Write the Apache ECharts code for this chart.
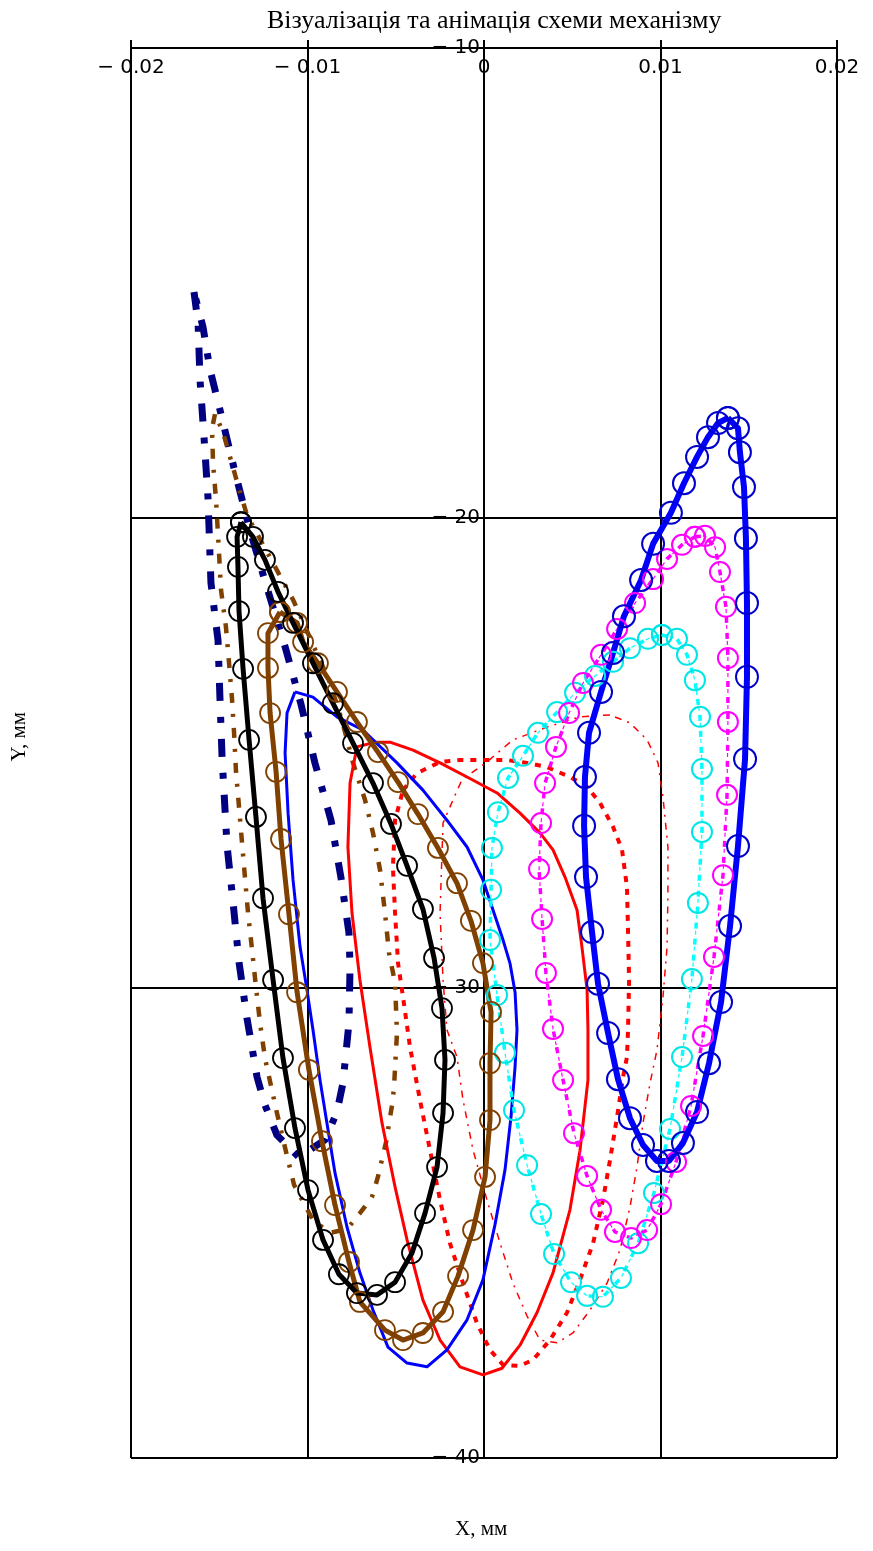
<!DOCTYPE html>
<html>
<head>
<meta charset="utf-8">
<script src="https://cdn.jsdelivr.net/npm/echarts@6/dist/echarts.min.js"></script>
<style>
html,body{margin:0;padding:0;background:#fff;}
#chart{width:873px;height:1551px;}
</style>
</head>
<body>
<div id="chart"></div>
<script>
// ---- tick labels ----
const xTickValues = [-0.02, -0.01, 0, 0.01, 0.02];
const xTickLabels = ['\u2212 0.02', '\u2212 0.01', '0', '0.01', '0.02'];
const yTickValues = [-40, -30, -20, -10];
const yTickLabels = ['\u2212 40', '\u2212 30', '\u2212 20', '\u2212 10'];

// ---- curve 1: navy dash-dot ----
const navyX = [-0.01643,-0.01620,-0.01609,-0.01586,-0.01564,-0.01547,-0.01507,-0.01496,-0.01484,-0.01456,-0.01422,-0.01388,-0.01343,-0.01286,-0.01241,-0.01173,-0.01048,-0.00901,-0.00833,-0.00799,-0.00765,-0.00759,-0.00765,-0.00810,-0.00867,-0.00958,-0.01037,-0.01127,-0.01229,-0.01326,-0.01411,-0.01490,-0.01552,-0.01592,-0.01643];
const navyY = [-15.19,-15.85,-17.06,-18.30,-19.55,-21.38,-22.60,-23.83,-25.09,-26.96,-28.17,-29.45,-30.64,-31.89,-32.49,-33.13,-33.60,-33.23,-32.64,-32.02,-30.74,-29.55,-28.83,-27.66,-26.43,-25.21,-23.96,-22.74,-21.49,-20.26,-19.02,-17.79,-16.85,-15.94,-15.19];

// ---- curve 2: brown dash-dot ----
const brownDX = [-0.01524,-0.01541,-0.01535,-0.01518,-0.01501,-0.01490,-0.01462,-0.01445,-0.01428,-0.01416,-0.01405,-0.01388,-0.01371,-0.01354,-0.01337,-0.01314,-0.01292,-0.01269,-0.01241,-0.01173,-0.01127,-0.01076,-0.00969,-0.00873,-0.00776,-0.00703,-0.00635,-0.00601,-0.00555,-0.00521,-0.00510,-0.00499,-0.00493,-0.00504,-0.00538,-0.00561,-0.00589,-0.00629,-0.00674,-0.00742,-0.00805,-0.00878,-0.00969,-0.01037,-0.01082,-0.01343,-0.01405,-0.01479,-0.01524];
const brownDY = [-17.79,-18.09,-18.85,-19.62,-20.77,-21.53,-22.32,-23.06,-23.83,-24.57,-25.40,-26.15,-26.91,-27.66,-28.40,-29.19,-29.98,-30.74,-31.49,-32.66,-33.40,-34.19,-34.94,-35.21,-35.13,-34.79,-34.45,-34.02,-33.28,-32.49,-32.13,-31.36,-30.96,-29.89,-29.26,-28.40,-27.49,-26.70,-26.00,-25.21,-24.30,-23.45,-22.70,-22.11,-21.74,-19.94,-19.15,-18.17,-17.79];

// ---- curve 3: black with circles ----
const blackX = [-0.01377,-0.01399,-0.01394,-0.01388,-0.01365,-0.01331,-0.01292,-0.01252,-0.01195,-0.01139,-0.01071,-0.00997,-0.00912,-0.00822,-0.00720,-0.00606,-0.00504,-0.00408,-0.00334,-0.00266,-0.00232,-0.00221,-0.00238,-0.00283,-0.00346,-0.00436,-0.00527,-0.00629,-0.00742,-0.00856,-0.00969,-0.01082,-0.01167,-0.01241,-0.01309,-0.01377];
const blackY = [-20.09,-20.40,-21.04,-21.98,-23.21,-24.72,-26.36,-28.09,-29.83,-31.49,-32.98,-34.30,-35.36,-36.09,-36.49,-36.53,-36.26,-35.64,-34.79,-33.81,-32.66,-31.53,-30.43,-29.36,-28.32,-27.40,-26.51,-25.64,-24.79,-23.94,-23.09,-22.23,-21.57,-20.89,-20.40,-20.09];

// ---- curve 4: brown with circles ----
const brownX = [-0.01156,-0.01059,-0.01025,-0.00941,-0.00833,-0.00720,-0.00601,-0.00487,-0.00374,-0.00261,-0.00153,-0.00074,-0.00006,0.00040,0.00034,0.00034,0.00006,-0.00062,-0.00147,-0.00232,-0.00346,-0.00459,-0.00561,-0.00703,-0.00765,-0.00844,-0.00918,-0.00992,-0.01059,-0.01105,-0.01150,-0.01178,-0.01212,-0.01224,-0.01224,-0.01156];
const brownY = [-22.00,-22.23,-22.64,-23.09,-23.70,-24.34,-24.98,-25.62,-26.30,-27.02,-27.77,-28.57,-29.47,-30.51,-31.60,-32.81,-34.02,-35.15,-36.13,-36.89,-37.34,-37.49,-37.28,-36.68,-35.83,-34.62,-33.26,-31.74,-30.09,-28.43,-26.83,-25.40,-24.15,-23.19,-22.45,-22.00];

// ---- curve 5: thin blue ----
const blueTX = [-0.01071,-0.01116,-0.01127,-0.01110,-0.01082,-0.01042,-0.01003,-0.00969,-0.00929,-0.00890,-0.00844,-0.00776,-0.00703,-0.00629,-0.00544,-0.00436,-0.00323,-0.00210,-0.00096,-0.00006,0.00062,0.00119,0.00153,0.00176,0.00187,0.00176,0.00147,0.00108,0.00051,-0.00006,-0.00096,-0.00210,-0.00346,-0.00493,-0.00686,-0.00833,-0.00969,-0.01071];
const blueTY = [-23.70,-24.15,-25.00,-26.28,-27.70,-29.13,-30.04,-30.89,-31.96,-32.87,-33.94,-35.09,-36.06,-36.85,-37.64,-37.98,-38.06,-37.70,-37.06,-36.21,-35.04,-33.87,-32.74,-31.68,-30.89,-30.09,-29.47,-28.98,-28.34,-27.70,-27.00,-26.43,-25.79,-25.21,-24.51,-24.23,-23.81,-23.70];

// ---- curve 6: red solid ----
const redSX = [-0.00618,-0.00533,-0.00402,-0.00249,-0.00096,0.00074,0.00204,0.00317,0.00391,0.00459,0.00527,0.00555,0.00584,0.00589,0.00589,0.00544,0.00487,0.00391,0.00300,0.00204,0.00102,-0.00006,-0.00136,-0.00249,-0.00346,-0.00436,-0.00504,-0.00578,-0.00646,-0.00703,-0.00748,-0.00771,-0.00759,-0.00720,-0.00618];
const redSY = [-24.77,-24.77,-24.94,-25.21,-25.51,-25.85,-26.28,-26.70,-27.06,-27.64,-28.34,-29.13,-30.04,-30.89,-31.96,-33.45,-34.72,-36.06,-36.91,-37.60,-38.09,-38.23,-38.06,-37.49,-36.64,-35.36,-34.23,-32.87,-31.26,-29.83,-28.40,-27.00,-25.64,-24.87,-24.77];

// ---- curve 7: red thick dotted ----
const redDX = [-0.00459,-0.00380,-0.00249,-0.00136,-0.00023,0.00130,0.00244,0.00357,0.00487,0.00584,0.00657,0.00731,0.00782,0.00810,0.00816,0.00822,0.00816,0.00810,0.00788,0.00754,0.00714,0.00674,0.00618,0.00544,0.00470,0.00374,0.00278,0.00204,0.00108,0.00034,-0.00040,-0.00119,-0.00193,-0.00249,-0.00306,-0.00363,-0.00419,-0.00459,-0.00487,-0.00504,-0.00516,-0.00504,-0.00459];
const redDY = [-25.79,-25.43,-25.19,-25.15,-25.15,-25.15,-25.21,-25.30,-25.51,-25.72,-26.06,-26.57,-27.06,-27.85,-28.77,-29.83,-30.89,-31.47,-31.89,-32.74,-33.66,-34.51,-35.43,-36.21,-36.91,-37.49,-37.91,-38.04,-38.02,-37.70,-37.13,-36.28,-35.43,-34.51,-33.45,-32.38,-31.26,-30.19,-29.47,-28.40,-27.43,-26.43,-25.79];

// ---- curve 8: red thin dash-dot ----
const redTX = [0.00714,0.00544,0.00357,0.00164,0.00017,-0.00125,-0.00176,-0.00232,-0.00238,-0.00249,-0.00232,-0.00210,-0.00153,-0.00119,-0.00062,0.00017,0.00091,0.00164,0.00244,0.00317,0.00414,0.00504,0.00601,0.00697,0.00771,0.00827,0.00867,0.00901,0.00941,0.00980,0.01014,0.01037,0.01042,0.01042,0.01014,0.00986,0.00924,0.00827,0.00714];
const redTY = [-24.19,-24.23,-24.45,-24.72,-25.19,-25.57,-26.00,-26.49,-27.13,-28.40,-29.83,-30.89,-31.47,-32.38,-33.45,-34.51,-35.43,-36.28,-36.98,-37.49,-37.55,-37.34,-36.85,-36.28,-35.57,-34.66,-33.81,-32.87,-32.02,-31.32,-30.19,-29.13,-28.06,-27.00,-25.94,-25.21,-24.72,-24.36,-24.19];

// ---- curve 9: cyan with circles ----
const cyanX = [0.01008,0.01093,0.01150,0.01195,0.01224,0.01235,0.01235,0.01212,0.01178,0.01122,0.01054,0.00963,0.00873,0.00776,0.00674,0.00584,0.00493,0.00397,0.00323,0.00244,0.00170,0.00119,0.00074,0.00034,0.00040,0.00045,0.00079,0.00136,0.00221,0.00306,0.00414,0.00516,0.00629,0.00731,0.00827,0.00929,0.01008];
const cyanY = [-22.49,-22.57,-22.91,-23.45,-24.23,-25.34,-26.68,-28.19,-29.81,-31.47,-33.00,-34.36,-35.43,-36.17,-36.57,-36.55,-36.26,-35.66,-34.81,-33.77,-32.60,-31.38,-30.15,-28.98,-27.91,-27.02,-26.26,-25.53,-25.06,-24.57,-24.13,-23.72,-23.36,-23.06,-22.77,-22.57,-22.49];

// ---- curve 10: magenta with circles ----
const magX = [0.01195,0.01252,0.01309,0.01337,0.01371,0.01382,0.01382,0.01377,0.01354,0.01303,0.01241,0.01173,0.01088,0.01003,0.00924,0.00833,0.00742,0.00663,0.00584,0.00510,0.00448,0.00391,0.00351,0.00329,0.00312,0.00323,0.00346,0.00408,0.00482,0.00561,0.00663,0.00754,0.00856,0.00958,0.01037,0.01122,0.01195];
const magY = [-20.40,-20.38,-20.62,-21.15,-21.89,-22.98,-24.34,-25.89,-27.60,-29.34,-31.02,-32.51,-33.70,-34.60,-35.15,-35.32,-35.19,-34.72,-34.00,-33.09,-31.96,-30.87,-29.68,-28.53,-27.47,-26.49,-25.64,-24.87,-24.15,-23.51,-22.91,-22.36,-21.81,-21.30,-20.87,-20.57,-20.40];

// ---- curve 11: thick blue with circles ----
const blueX = [0.01382,0.01439,0.01450,0.01473,0.01484,0.01490,0.01490,0.01479,0.01439,0.01394,0.01343,0.01275,0.01207,0.01127,0.01048,0.00980,0.00901,0.00827,0.00759,0.00703,0.00646,0.00612,0.00578,0.00567,0.00572,0.00595,0.00663,0.00731,0.00793,0.00890,0.00958,0.01059,0.01133,0.01207,0.01269,0.01326,0.01382];
const blueY = [-17.87,-18.09,-18.60,-19.34,-20.43,-21.81,-23.38,-25.13,-26.98,-28.68,-30.30,-31.60,-32.64,-33.30,-33.68,-33.68,-33.34,-32.77,-31.94,-30.96,-29.91,-28.81,-27.64,-26.55,-25.51,-24.57,-23.70,-22.87,-22.09,-21.32,-20.55,-19.89,-19.26,-18.70,-18.28,-17.98,-17.87];

function zip(xs, ys) { return xs.map((x, i) => [x, ys[i]]); }

function curve(name, xs, ys, color, width, type, sym, dashOffset) {
  return {
    name: name, type: 'line', data: zip(xs, ys),
    showSymbol: !!sym, symbol: sym ? 'circle' : 'none',
    symbolSize: sym ? sym.size : 0,
    lineStyle: { color: color, width: width, type: type, dashOffset: dashOffset || 0, cap: 'butt', join: 'round' },
    itemStyle: sym ? { color: 'rgba(0,0,0,0)', borderColor: sym.color, borderWidth: sym.bw } : { color: color },
    smooth: false, animation: false, silent: true, z: 2
  };
}

const series = [
  curve('navy', navyX, navyY, '#000080', 7, [18, 16, 6, 16], null),
  curve('brownDash', brownDX, brownDY, '#804000', 4.5, [10, 11, 3, 11], null),
  curve('redThin', redTX, redTY, '#FF0000', 1.5, [7, 6, 2, 6], null),
  curve('redDot', redDX, redDY, '#FF0000', 4, [6, 7], null),
  curve('redSolid', redSX, redSY, '#FF0000', 3, 'solid', null),
  curve('blueThin', blueTX, blueTY, '#0000FF', 3, 'solid', null),
  curve('cyanThin', cyanX, cyanY, '#00FFFF', 1.2, [4, 12], null, 8),
  curve('cyan', cyanX, cyanY, '#00FFFF', 3.5, [6, 10], { size: 20, color: '#00E5E5', bw: 2 }),
  curve('magentaThin', magX, magY, '#FF00FF', 1.2, [4, 12], null, 8),
  curve('magenta', magX, magY, '#FF00FF', 3.5, [6, 10], { size: 20, color: '#FF00FF', bw: 2 }),
  curve('blue', blueX, blueY, '#0000FF', 6, 'solid', { size: 22, color: '#0000CC', bw: 2 }),
  curve('brown', brownX, brownY, '#804000', 5, 'solid', { size: 20, color: '#804000', bw: 1.8 }),
  curve('black', blackX, blackY, '#000000', 5, 'solid', { size: 20, color: '#000000', bw: 1.8 })
];

const chart = echarts.init(document.getElementById('chart'), null, { renderer: 'canvas' });
chart.setOption({
  backgroundColor: '#ffffff',
  animation: false,
  title: {
    text: 'Візуалізація та анімація схеми механізму',
    left: 262, top: 3,
    textStyle: { fontFamily: 'Liberation Serif', fontSize: 26, fontWeight: 'normal', color: '#000' }
  },
  grid: { left: 131, top: 48, width: 706, height: 1410, containLabel: false },
  xAxis: {
    type: 'value', position: 'top', min: -0.02, max: 0.02, interval: 0.01,
    axisLine: { show: true, onZero: false, lineStyle: { color: '#000', width: 2 } },
    axisTick: { show: true, inside: false, length: 8, lineStyle: { color: '#000', width: 2 } },
    axisLabel: {
      inside: true, margin: 10, fontSize: 20, color: '#000', fontFamily: 'DejaVu Sans',
      formatter: function (v) { const i = xTickValues.findIndex(t => Math.abs(t - v) < 1e-9); return i >= 0 ? xTickLabels[i] : ''; }
    },
    splitLine: { show: true, lineStyle: { color: '#000', width: 2 } }
  },
  yAxis: {
    type: 'value', min: -40, max: -10, interval: 10, offset: -353,
    axisLine: { show: true, onZero: false, lineStyle: { color: '#000', width: 2 } },
    axisTick: { show: false },
    axisLabel: {
      margin: 4, fontSize: 20, color: '#000', fontFamily: 'DejaVu Sans',
      formatter: function (v) { const i = yTickValues.findIndex(t => Math.abs(t - v) < 1e-9); return i >= 0 ? yTickLabels[i] : ''; }
    },
    splitLine: { show: true, lineStyle: { color: '#000', width: 2 } }
  },
  graphic: [
    { type: 'text', left: 9, top: 712, rotation: Math.PI / 2,
      style: { text: 'Y, мм', font: '21px "Liberation Serif"', fill: '#000' } },
    { type: 'text', left: 455, top: 1519,
      style: { text: 'X, мм', font: '21px "Liberation Serif"', fill: '#000' } }
  ],
  series: series
});
</script>
</body>
</html>
